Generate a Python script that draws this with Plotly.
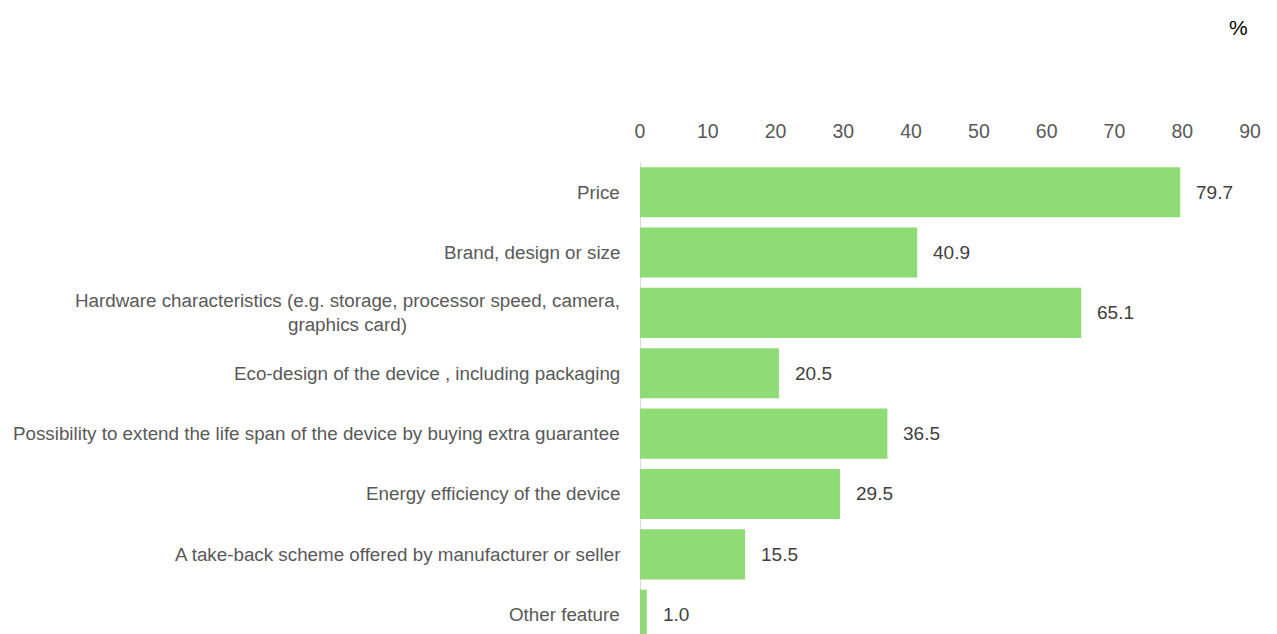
import plotly.graph_objects as go

# Share of respondents citing each feature (%)
features = [
    "Price",
    "Brand, design or size",
    "Hardware characteristics (e.g. storage, processor speed, camera,<br>graphics card)",
    "Eco-design of the device , including packaging",
    "Possibility to extend the life span of the device by buying extra guarantee",
    "Energy efficiency of the device",
    "A take-back scheme offered by manufacturer or seller",
    "Other feature",
]
shares = [79.7, 40.9, 65.1, 20.5, 36.5, 29.5, 15.5, 1.0]
x_ticks = [0, 10, 20, 30, 40, 50, 60, 70, 80, 90]

FONT = "Liberation Sans, Arial, sans-serif"
idx = list(range(len(features)))

fig = go.Figure(
    go.Bar(
        x=shares,
        y=idx,
        orientation="h",
        marker=dict(color="#8FDB75", line=dict(width=0)),
        hoverinfo="x",
    )
)

# category labels (centred multi-line text, right-aligned to the axis)
for i, name in zip(idx, features):
    fig.add_annotation(
        x=0, y=i, xref="x", yref="y", text=name, showarrow=False,
        xanchor="right", yanchor="middle", align="center", xshift=-18,
        font=dict(family=FONT, size=18.8, color="#595959"),
    )

# value labels
for i, v in zip(idx, shares):
    fig.add_annotation(
        x=v, y=i, xref="x", yref="y", text=f"{v:.1f}", showarrow=False,
        xanchor="left", yanchor="middle", xshift=14,
        font=dict(family=FONT, size=19, color="#404040"),
    )

# unit marker, placed in the top-right corner above the axis
fig.add_annotation(
    xref="paper", yref="paper",
    x=(1238 - 640) / (1277 - 640 - 27), y=1 + (162 - 27) / (634 - 162),
    xanchor="center", yanchor="middle", text="%", showarrow=False,
    font=dict(family=FONT, size=21, color="#000000"),
)

fig.update_layout(
    width=1277,
    height=634,
    margin=dict(l=640, r=27, t=162, b=0),
    paper_bgcolor="white",
    plot_bgcolor="white",
    bargap=0.17,
    showlegend=False,
    xaxis=dict(
        side="top",
        range=[0, 90],
        tickvals=x_ticks,
        showgrid=False,
        zeroline=False,
        showline=False,
        ticks="",
        ticklabelstandoff=19,
        tickfont=dict(family=FONT, size=19.5, color="#595959"),
    ),
    yaxis=dict(
        range=[7.32, -0.5],
        showticklabels=False,
        showgrid=False,
        zeroline=False,
        showline=False,
        ticks="",
    ),
    shapes=[
        dict(type="line", xref="x", yref="paper", x0=0, x1=0, y0=0, y1=1,
             line=dict(color="#D9D9D9", width=2), layer="below"),
    ],
)

fig.write_html("out.html")
